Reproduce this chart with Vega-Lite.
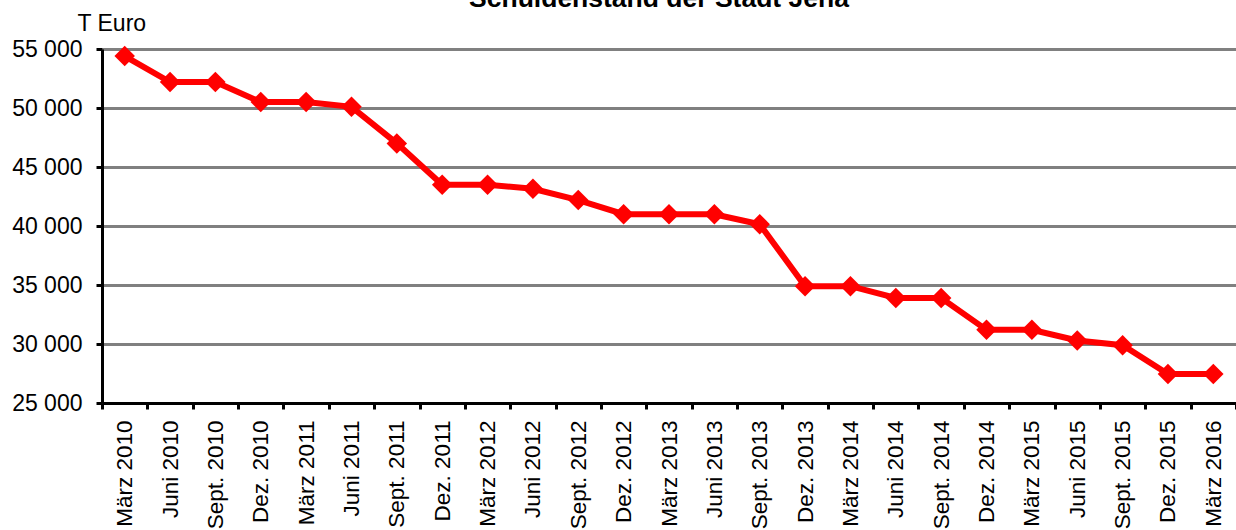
{
  "$schema": "https://vega.github.io/schema/vega-lite/v6.json",
  "autosize": {"type": "none"},
  "padding": {"left": 102, "top": 49, "right": 0, "bottom": 127},
  "width": 1134,
  "height": 354,
  "background": "white",
  "title": {
    "text": "Schuldenstand der Stadt Jena",
    "font": "Liberation Sans",
    "fontSize": 26.5,
    "fontWeight": "bold",
    "color": "black",
    "anchor": "middle",
    "frame": "group",
    "baseline": "alphabetic",
    "offset": -21,
    "dx": -10
  },
  "config": {
    "view": {"stroke": null},
    "font": "Liberation Sans"
  },
  "data": {
    "values": [
      {"monat": "März 2010", "schulden": 54400},
      {"monat": "Juni 2010", "schulden": 52200},
      {"monat": "Sept. 2010", "schulden": 52200},
      {"monat": "Dez. 2010", "schulden": 50500},
      {"monat": "März 2011", "schulden": 50500},
      {"monat": "Juni 2011", "schulden": 50100},
      {"monat": "Sept. 2011", "schulden": 47000},
      {"monat": "Dez. 2011", "schulden": 43500},
      {"monat": "März 2012", "schulden": 43500},
      {"monat": "Juni 2012", "schulden": 43150},
      {"monat": "Sept. 2012", "schulden": 42200},
      {"monat": "Dez. 2012", "schulden": 41000},
      {"monat": "März 2013", "schulden": 41000},
      {"monat": "Juni 2013", "schulden": 41000},
      {"monat": "Sept. 2013", "schulden": 40150},
      {"monat": "Dez. 2013", "schulden": 34900},
      {"monat": "März 2014", "schulden": 34900},
      {"monat": "Juni 2014", "schulden": 33900},
      {"monat": "Sept. 2014", "schulden": 33900},
      {"monat": "Dez. 2014", "schulden": 31200},
      {"monat": "März 2015", "schulden": 31200},
      {"monat": "Juni 2015", "schulden": 30300},
      {"monat": "Sept. 2015", "schulden": 29900},
      {"monat": "Dez. 2015", "schulden": 27450},
      {"monat": "März 2016", "schulden": 27450}
    ]
  },
  "mark": {
    "type": "line",
    "color": "#FF0000",
    "strokeWidth": 6,
    "point": {"shape": "diamond", "size": 420, "filled": true, "color": "#FF0000", "opacity": 1}
  },
  "encoding": {
    "x": {
      "field": "monat",
      "type": "nominal",
      "sort": null,
      "scale": {"type": "band", "paddingInner": 0, "paddingOuter": 0},
      "axis": {
        "title": null,
        "labelAngle": -90,
        "labelAlign": "right",
        "labelBaseline": "middle",
        "labelFontSize": 22.5,
        "labelColor": "black",
        "labelPadding": 11,
        "tickBand": "extent",
        "tickSize": 6,
        "tickWidth": 3,
        "tickColor": "black",
        "domainColor": "black",
        "domainWidth": 3,
        "grid": false,
        "labelOverlap": false,
        "zindex": 1
      }
    },
    "y": {
      "field": "schulden",
      "type": "quantitative",
      "scale": {"domain": [25000, 55000], "nice": false, "zero": false},
      "axis": {
        "title": "T Euro",
        "titleAngle": 0,
        "titleAlign": "left",
        "titleBaseline": "alphabetic",
        "titleX": -25,
        "titleY": -19,
        "titleFontSize": 23,
        "titleFontWeight": "normal",
        "titleColor": "black",
        "values": [25000, 30000, 35000, 40000, 45000, 50000, 55000],
        "labelExpr": "replace(format(datum.value, ','), ',', ' ')",
        "labelFontSize": 23,
        "labelColor": "black",
        "labelPadding": 14,
        "tickSize": 6,
        "tickWidth": 3,
        "tickColor": "black",
        "domainColor": "black",
        "domainWidth": 3,
        "grid": true,
        "gridColor": "#808080",
        "gridWidth": 3,
        "gridOpacity": 1
      }
    }
  }
}
